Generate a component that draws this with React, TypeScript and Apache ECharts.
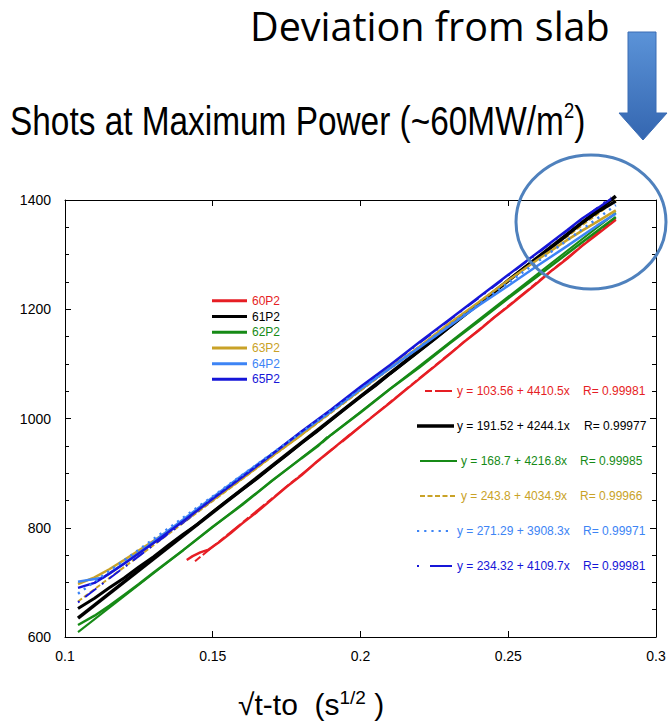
import React, { useEffect, useRef } from 'react';
import * as echarts from 'echarts';

const seriesNames = ['60P2', '61P2', '62P2', '63P2', '64P2', '65P2'];
const seriesColors = ['#e61e24', '#000000', '#168a16', '#c9a227', '#3d84f5', '#1616d8'];

// measured shot curves [sqrt(t-t0), T]
const shot60 = [
  [0.1412, 741], [0.1432, 748], [0.1458, 755], [0.1486, 760], [0.152, 773], [0.156, 790], [0.16, 808],
  [0.165, 829], [0.17, 852], [0.175, 875], [0.18, 896], [0.185, 920], [0.1905, 944], [0.1965, 971],
  [0.1938, 958], [0.1985, 979], [0.204, 1003], [0.21, 1029], [0.215, 1051], [0.22, 1073], [0.225, 1095],
  [0.23, 1117], [0.235, 1140], [0.24, 1161], [0.245, 1184], [0.25, 1205], [0.255, 1227], [0.26, 1249],
  [0.265, 1272], [0.27, 1293], [0.275, 1316], [0.28, 1337], [0.2864, 1364],
];
const shot61 = [
  [0.1044, 652], [0.107, 661], [0.11, 671], [0.115, 690], [0.12, 708], [0.125, 728], [0.13, 747],
  [0.135, 768], [0.14, 788], [0.145, 807], [0.15, 829], [0.155, 850], [0.16, 870], [0.165, 890],
  [0.17, 912], [0.175, 933], [0.18, 955], [0.185, 975], [0.19, 997], [0.195, 1019], [0.2, 1040],
  [0.205, 1060], [0.21, 1082], [0.215, 1103], [0.22, 1124], [0.225, 1145], [0.23, 1167], [0.235, 1189],
  [0.24, 1210], [0.245, 1230], [0.25, 1253], [0.255, 1274], [0.26, 1294], [0.265, 1315], [0.27, 1336],
  [0.275, 1358], [0.28, 1377], [0.2864, 1398],
];
const shot62 = [
  [0.1044, 622], [0.11, 639], [0.115, 657], [0.12, 677], [0.125, 697], [0.13, 718], [0.14, 759],
  [0.15, 802], [0.16, 842], [0.17, 886], [0.18, 927], [0.1855, 949], [0.1888, 966], [0.187, 956],
  [0.19, 970], [0.2, 1011], [0.21, 1054], [0.22, 1094], [0.23, 1137], [0.24, 1178], [0.25, 1220],
  [0.26, 1261], [0.27, 1302], [0.28, 1343], [0.2864, 1369],
];
const shot63 = [
  [0.1044, 697], [0.11, 709], [0.115, 724], [0.12, 741], [0.13, 776], [0.14, 812], [0.15, 851],
  [0.16, 890], [0.17, 931], [0.18, 970], [0.19, 1012], [0.2, 1052], [0.21, 1093], [0.22, 1132],
  [0.23, 1174], [0.24, 1213], [0.25, 1253], [0.26, 1291], [0.265, 1309], [0.27, 1327], [0.275, 1344],
  [0.28, 1360], [0.2864, 1381],
];
const shot64 = [
  [0.1044, 701], [0.1085, 705], [0.113, 709], [0.12, 735], [0.125, 754], [0.13, 775], [0.14, 815],
  [0.15, 856], [0.16, 896], [0.17, 935], [0.18, 975], [0.19, 1013], [0.2, 1054], [0.21, 1092],
  [0.22, 1130], [0.23, 1169], [0.24, 1207], [0.25, 1243], [0.26, 1280], [0.27, 1316], [0.28, 1353],
  [0.2864, 1375],
];
const shot65 = [
  [0.1044, 690], [0.11, 699], [0.115, 716], [0.12, 734], [0.13, 772], [0.14, 812], [0.15, 853],
  [0.16, 893], [0.17, 934], [0.18, 976], [0.19, 1016], [0.2, 1058], [0.21, 1098], [0.22, 1140],
  [0.23, 1181], [0.24, 1222], [0.25, 1263], [0.26, 1304], [0.27, 1345], [0.275, 1366], [0.28, 1384],
  [0.2848, 1402],
];
const shots = [shot60, shot61, shot62, shot63, shot64, shot65];

// linear fits printed on the chart
const fitIntercepts = [103.56, 191.52, 168.7, 243.8, 271.29, 234.32];
const fitSlopes = [4410.5, 4244.1, 4216.8, 4034.9, 3908.3, 4109.7];
const fitR = ['0.99981', '0.99977', '0.99985', '0.99966', '0.99971', '0.99981'];
const fitStart = [0.144, 0.1044, 0.1044, 0.1044, 0.1044, 0.1044];
const fitEnd = [0.2864, 0.2864, 0.2864, 0.2864, 0.2864, 0.2848];

const xTickLabels = ['0.1', '0.15', '0.2', '0.25', '0.3'];
const yTickLabels = ['600', '800', '1000', '1200', '1400'];

const fitDash: any[] = [[7, 3, 18, 3], 'solid', 'solid', [5, 2.5], [2.2, 5], [2, 7, 14, 7]];
const fitWidths = [2, 3.5, 2, 2, 2.5, 2];
const sampleDash: any[] = [[7, 3, 18, 3], null, null, [5, 2.5], [2.2, 5], [2, 11, 22, 4]];
const rowY = [391, 426, 461, 496, 531, 566];
const rowLineX = [[425, 452], [417, 454], [420, 457], [420, 457], [417, 453], [417, 453]];
const rowTextX = [457, 457, 461, 461, 457, 457];
const rowRX = [583, 584, 580, 580, 583, 583];

const SANS = "'Liberation Sans', Arial, Helvetica, sans-serif";

function buildOption() {
  const dataSeries = shots.map((d, i) => ({
    name: seriesNames[i],
    type: 'line',
    data: d,
    symbol: 'none',
    clip: false,
    z: 3,
    lineStyle: { color: seriesColors[i], width: i === 1 ? 3 : 2.5 },
    itemStyle: { color: seriesColors[i] },
  }));
  const fitSeries = fitIntercepts.map((a, i) => ({
    name: 'fit ' + seriesNames[i],
    type: 'line',
    data: [
      [fitStart[i], a + fitSlopes[i] * fitStart[i]],
      [fitEnd[i], a + fitSlopes[i] * fitEnd[i]],
    ],
    symbol: 'none',
    clip: false,
    silent: true,
    z: i === 4 ? 4 : 2,
    lineStyle: { color: seriesColors[i], width: fitWidths[i], type: fitDash[i] },
  }));

  const fitGraphics: any[] = [];
  fitIntercepts.forEach((a, i) => {
    const st: any = { stroke: seriesColors[i], lineWidth: i === 1 ? 3.5 : 2 };
    if (sampleDash[i]) st.lineDash = sampleDash[i];
    fitGraphics.push({
      type: 'line',
      shape: { x1: rowLineX[i][0], y1: rowY[i], x2: rowLineX[i][1], y2: rowY[i] },
      style: st,
    });
    const txt = (text: string, x: number) => ({
      type: 'text',
      x,
      y: rowY[i],
      style: {
        text,
        fill: seriesColors[i],
        fontSize: 12,
        fontFamily: SANS,
        align: 'left',
        verticalAlign: 'middle',
        textAlign: 'left',
        textVerticalAlign: 'middle',
      },
    });
    fitGraphics.push(txt(`y = ${a} + ${fitSlopes[i]}x`, rowTextX[i]));
    fitGraphics.push(txt(`R= ${fitR[i]}`, rowRX[i]));
  });

  const axisCommon = {
    axisLine: { show: true, lineStyle: { color: '#000', width: 1 } },
    splitLine: { show: false },
  };
  const tick = { show: true, inside: true, length: 6, lineStyle: { color: '#000' } };
  const minor = { show: true, splitNumber: 4, length: 4, lineStyle: { color: '#000' } };

  return {
    animation: false,
    backgroundColor: '#ffffff',
    grid: { left: 65, right: 13, top: 200, bottom: 90, containLabel: false },
    legend: {
      orient: 'vertical',
      left: 212,
      top: 293,
      padding: 0,
      itemGap: 0,
      itemWidth: 35,
      itemHeight: 3,
      icon: 'rect',
      selectedMode: false,
      textStyle: { fontSize: 12, fontFamily: SANS, lineHeight: 15.7 },
      data: seriesNames.map((n, i) => ({ name: n, textStyle: { color: seriesColors[i] } })),
    },
    xAxis: [
      {
        type: 'value',
        min: 0.1,
        max: 0.3,
        interval: 0.05,
        ...axisCommon,
        axisTick: tick,
        axisLabel: {
          show: true,
          margin: 12,
          fontSize: 14,
          fontFamily: SANS,
          color: '#000',
          formatter: (v: number) => xTickLabels[Math.round((v - 0.1) / 0.05)] ?? '',
        },
      },
      {
        type: 'value',
        position: 'top',
        min: 0.1,
        max: 0.3,
        interval: 0.05,
        ...axisCommon,
        axisTick: tick,
        axisLabel: { show: false },
      },
    ],
    yAxis: [
      {
        type: 'value',
        min: 600,
        max: 1400,
        interval: 200,
        ...axisCommon,
        axisTick: tick,
        minorTick: minor,
        axisLabel: {
          show: true,
          margin: 14,
          fontSize: 14,
          fontFamily: SANS,
          color: '#000',
          formatter: (v: number) => yTickLabels[Math.round((v - 600) / 200)] ?? '',
        },
      },
      {
        type: 'value',
        position: 'right',
        min: 600,
        max: 1400,
        interval: 200,
        ...axisCommon,
        axisTick: tick,
        minorTick: minor,
        axisLabel: { show: false },
      },
    ],
    series: [...fitSeries, ...dataSeries],
    graphic: [
      {
        type: 'text',
        x: 250,
        y: 26,
        style: {
          text: 'Deviation from slab',
          fill: '#000',
          fontSize: 39.5,
          lineHeight: 40,
          fontFamily: "'Open Sans', Lato, sans-serif",
          align: 'left',
          verticalAlign: 'middle',
          textAlign: 'left',
          textVerticalAlign: 'middle',
        },
      },
      {
        type: 'text',
        x: 10,
        y: 121,
        scaleX: 0.835,
        style: {
          text: '{a|Shots at Maximum Power (~60MW/m}{s|2}{a|)}',
          align: 'left',
          verticalAlign: 'middle',
          textAlign: 'left',
          textVerticalAlign: 'middle',
          rich: {
            a: { fontSize: 40, lineHeight: 44, fontFamily: SANS, fill: '#000' },
            s: { fontSize: 22, lineHeight: 22, fontFamily: SANS, fill: '#000', verticalAlign: 'top' },
          },
        },
      },
      {
        type: 'text',
        x: 238,
        y: 704.5,
        style: {
          text: '{a|\u221At-to  (s}{s|1/2}{a| )}',
          align: 'left',
          verticalAlign: 'middle',
          textAlign: 'left',
          textVerticalAlign: 'middle',
          rich: {
            a: { fontSize: 30, lineHeight: 34, fontFamily: SANS, fill: '#000' },
            s: { fontSize: 19, lineHeight: 19, fontFamily: SANS, fill: '#000', verticalAlign: 'top' },
          },
        },
      },
      {
        type: 'polygon',
        shape: {
          points: [
            [628, 32], [656, 32], [656, 113], [667, 113], [643, 140], [619, 113], [628, 113],
          ],
        },
        style: {
          fill: new echarts.graphic.LinearGradient(0, 0, 0, 1, [
            { offset: 0, color: '#5b93d8' },
            { offset: 1, color: '#3466b0' },
          ]),
          stroke: '#3a6cb4',
          lineWidth: 1,
        },
        z: 10,
      },
      {
        type: 'ellipse',
        shape: { cx: 591, cy: 222, rx: 75, ry: 67 },
        style: { fill: 'none', stroke: '#4f81bd', lineWidth: 3 },
        z: 10,
      },
      ...fitGraphics,
    ],
  };
}

export default function App() {
  const ref = useRef<HTMLDivElement>(null);
  useEffect(() => {
    if (!ref.current) return;
    const chart = echarts.init(ref.current, undefined, { renderer: 'svg' });
    chart.setOption(buildOption() as any);
    return () => chart.dispose();
  }, []);
  return (
    <div
      ref={ref}
      style={{ position: 'absolute', left: 0, top: 0, width: 669, height: 727, background: '#fff' }}
    />
  );
}
